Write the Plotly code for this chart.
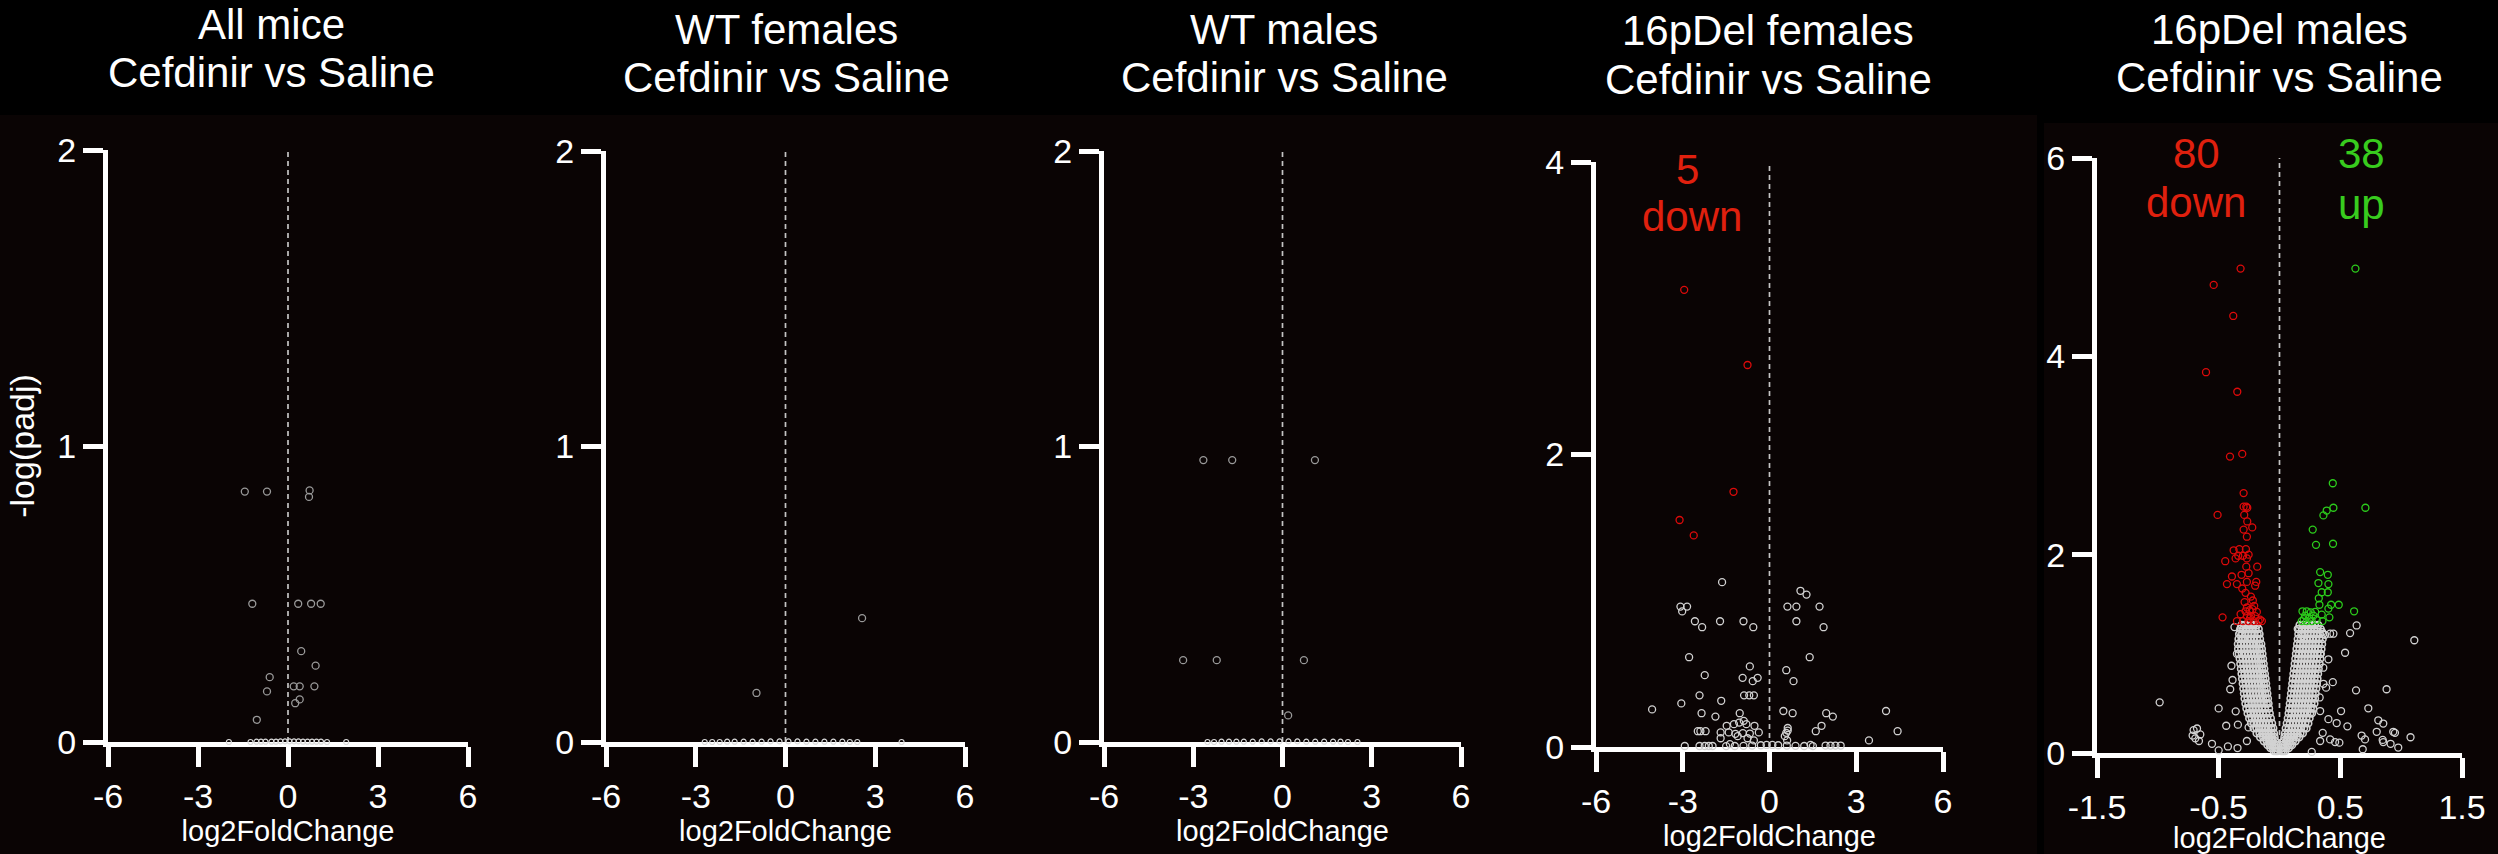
import plotly.graph_objects as go

W, H = 2498, 854
FONT = "Liberation Sans, Arial, Helvetica, sans-serif"

# ---------------- data: log2FoldChange (x) and -log(padj) (y) ----------------
# All mice
all_x = [-1.44, -0.70, 0.72, 0.70, -1.19, 0.34, 0.77, 1.09, 0.44, 0.92,
         -0.61, 0.19, 0.39, 0.88, -0.70, 0.39, 0.24, -1.04]
all_y = [0.846, 0.846, 0.850, 0.828, 0.467, 0.467, 0.467, 0.467, 0.307, 0.258,
         0.219, 0.188, 0.188, 0.188, 0.171, 0.144, 0.131, 0.075]
all_base_x = [-1.97, -1.25, -1.05, -0.90, -0.75, -0.55, -0.40, -0.25, -0.10, 0.05,
              0.20, 0.35, 0.50, 0.65, 0.80, 0.95, 1.10, 1.30, 1.94]
all_base_y = [0.000, 0.000, 0.001, 0.001, 0.001, 0.001, 0.001, 0.002, 0.002, 0.002,
              0.002, 0.002, 0.001, 0.001, 0.001, 0.001, 0.001, 0.000, 0.000]

# WT females
wtf_x = [2.56, -0.97]
wtf_y = [0.419, 0.166]
wtf_base_x = [-2.70, -2.45, -2.20, -1.95, -1.70, -1.40, -1.10, -0.80, -0.50, -0.20,
              0.10, 0.40, 0.70, 1.00, 1.30, 1.60, 1.90, 2.15, 2.40, 3.88]
wtf_base_y = [0.000, 0.000, 0.000, 0.001, 0.001, 0.001, 0.001, 0.001, 0.002, 0.002,
              0.002, 0.002, 0.001, 0.001, 0.001, 0.001, 0.001, 0.000, 0.000, 0.000]

# WT males
wtm_x = [-2.66, -1.69, 1.09, -3.34, -2.21, 0.72, 0.19]
wtm_y = [0.954, 0.954, 0.954, 0.277, 0.277, 0.277, 0.090]
wtm_base_x = [-2.52, -2.30, -2.05, -1.80, -1.55, -1.30, -1.00, -0.70, -0.40, -0.10,
              0.20, 0.50, 0.80, 1.10, 1.40, 1.70, 1.95, 2.20, 2.52]
wtm_base_y = [0.000, 0.000, 0.001, 0.001, 0.001, 0.001, 0.001, 0.002, 0.002, 0.002,
              0.002, 0.002, 0.001, 0.001, 0.001, 0.001, 0.001, 0.000, 0.000]

# 16pDel females
delf_down_x = [-2.95, -0.76, -1.245, -3.11, -2.62]
delf_down_y = [3.126, 2.612, 1.745, 1.552, 1.447]
delf_x = [-1.64, -3.08, -3.02, -2.85, -2.58, -2.33, -1.71, -0.90, -0.56, -2.78,
          -2.24, -0.68, -0.93, -0.58, -0.41, -2.42, -1.67, -0.88, -0.70, -0.54,
          -4.06, -3.05, -2.35, -1.87, -1.03, -1.48, -1.23, -1.05, -0.89, -0.80,
          -0.52, -1.69, -1.41, -1.18, -0.92, -0.68, -0.37, -2.48, -2.39, -2.21,
          -1.69, -1.10, -0.76, -0.54, -2.93, -2.42, -2.24, -2.10, -1.97, -1.37,
          1.07, 1.28, 0.62, 0.93, 1.73, 0.93, 1.87, 1.39, 0.58, 0.83,
          0.48, 0.80, 1.96, 2.19, 1.80, 1.60, 0.63, 0.63, 0.58, 0.53,
          0.61, 4.03, 4.43, 3.44, 1.42, 1.94, 2.11, 2.28, 2.46]
delf_y = [1.127, 0.960, 0.927, 0.960, 0.860, 0.819, 0.860, 0.860, 0.819, 0.614,
          0.491, 0.551, 0.473, 0.450, 0.473, 0.353, 0.316, 0.353, 0.353, 0.353,
          0.257, 0.298, 0.231, 0.208, 0.231, 0.145, 0.156, 0.167, 0.179, 0.156,
          0.145, 0.100, 0.100, 0.090, 0.095, 0.092, 0.100, 0.108, 0.108, 0.108,
          0.060, 0.074, 0.060, 0.045, 0.007, 0.007, 0.007, 0.007, 0.007, 0.020,
          1.068, 1.042, 0.960, 0.960, 0.960, 0.860, 0.819, 0.614, 0.525, 0.450,
          0.246, 0.231, 0.231, 0.208, 0.145, 0.108, 0.130, 0.112, 0.097, 0.074,
          0.045, 0.246, 0.108, 0.045, 0.015, 0.010, 0.010, 0.010, 0.010]
delf_base_x = [-1.50, -1.20, -0.90, -0.60, -0.30, -0.10, 0.10, 0.30, 0.60, 0.90, 1.20, 1.50]
delf_base_y = [0.006, 0.007, 0.008, 0.010, 0.012, 0.014, 0.014, 0.012, 0.010, 0.008, 0.007, 0.006]

# 16pDel males
delm_down_x = [-0.320, -0.541, -0.380, -0.604, -0.347, -0.407, -0.306, -0.295, -0.509, -0.295,
               -0.273, -0.265, -0.290, -0.265, -0.295, -0.224, -0.268, -0.377, -0.330, -0.276,
               -0.339, -0.300, -0.254, -0.446, -0.361, -0.268, -0.273, -0.183, -0.312, -0.391,
               -0.254, -0.432, -0.350, -0.268, -0.191, -0.306, -0.200, -0.279, -0.235, -0.287,
               -0.219, -0.268, -0.208, -0.279, -0.246, -0.222, -0.186, -0.468, -0.350, -0.301,
               -0.254, -0.213, -0.172, -0.145, -0.268, -0.235, -0.200, -0.320, -0.242, -0.160]
delm_down_y = [4.885, 4.720, 4.407, 3.840, 3.643, 2.989, 3.016, 2.621, 2.401, 2.484,
               2.484, 2.473, 2.401, 2.335, 2.253, 2.275, 2.181, 2.044, 2.055, 2.055,
               1.989, 1.989, 2.000, 1.934, 1.962, 1.962, 1.879, 1.879, 1.797, 1.780,
               1.813, 1.703, 1.703, 1.725, 1.725, 1.659, 1.687, 1.615, 1.577, 1.522,
               1.538, 1.467, 1.484, 1.429, 1.440, 1.450, 1.423, 1.368, 1.330, 1.330,
               1.330, 1.330, 1.330, 1.330, 1.380, 1.380, 1.380, 1.400, 1.360, 1.345]
delm_up_x = [0.624, 0.438, 0.706, 0.443, 0.388, 0.361, 0.273, 0.440, 0.300, 0.334,
             0.397, 0.320, 0.402, 0.347, 0.397, 0.323, 0.487, 0.328, 0.424, 0.402,
             0.613, 0.189, 0.224, 0.257, 0.293, 0.347, 0.183, 0.224, 0.265, 0.306,
             0.353, 0.410, 0.210, 0.279, 0.245, 0.200]
delm_up_y = [4.885, 2.720, 2.473, 2.473, 2.445, 2.396, 2.253, 2.110, 2.099, 1.824,
             1.797, 1.714, 1.703, 1.621, 1.621, 1.560, 1.495, 1.495, 1.495, 1.456,
             1.429, 1.429, 1.429, 1.418, 1.423, 1.396, 1.330, 1.330, 1.330, 1.340,
             1.330, 1.368, 1.385, 1.385, 1.360, 1.350]
delm_x = [-0.985, -0.500, -0.706, -0.678, -0.714, -0.692, -0.651, -0.662, -0.555, -0.500,
          -0.424, -0.438, -0.405, -0.386, -0.342, -0.345, -0.254, -0.268, -0.323, -0.350,
          1.108, 0.580, 0.634, 0.539, 0.443, 0.880, 0.629, 0.438, 0.506, 0.730,
          0.402, 0.470, 0.558, 0.812, 0.853, 0.799, 0.935, 0.949, 0.675, 0.703,
          0.848, 0.853, 0.913, 0.976, 1.077, 0.684, 0.416, 0.457, 0.492, 0.265,
          0.350, 0.375, 0.416, 0.334, 0.402, 0.361, 0.383, 0.334, 0.355, 0.334,
          -0.370, -0.300, -0.395, -0.360, 0.150, 0.190, 0.360, 0.330]
delm_y = [0.511, 0.450, 0.231, 0.247, 0.176, 0.148, 0.187, 0.121, 0.093, 0.027,
          0.066, 0.275, 0.643, 0.736, 0.286, 0.050, 0.258, 0.121, 1.220, 1.000,
          1.137, 1.209, 1.286, 1.011, 1.203, 0.643, 0.632, 0.714, 0.423, 0.451,
          0.341, 0.302, 0.269, 0.330, 0.297, 0.214, 0.214, 0.203, 0.176, 0.137,
          0.132, 0.110, 0.093, 0.055, 0.159, 0.038, 0.137, 0.110, 0.104, 0.011,
          1.220, 1.192, 1.203, 1.000, 0.945, 0.698, 0.659, 0.423, 0.203, 0.121,
          1.270, 1.150, 0.880, 0.420, 1.250, 1.180, 0.860, 0.560]

# dense central cloud of the 16pDel males comparison, one row per -log(padj) level
delm_core_left = [
    (0.02, [-0.045, -0.030, -0.016]),
    (0.05, [-0.074, -0.056, -0.037, -0.021]),
    (0.08, [-0.098, -0.079, -0.061, -0.043, -0.027]),
    (0.12, [-0.128, -0.104, -0.082, -0.061, -0.037]),
    (0.16, [-0.158, -0.133, -0.111, -0.087, -0.063, -0.041]),
    (0.20, [-0.187, -0.163, -0.139, -0.116, -0.091, -0.068, -0.046]),
    (0.25, [-0.212, -0.188, -0.166, -0.141, -0.117, -0.093, -0.069, -0.052]),
    (0.30, [-0.233, -0.209, -0.186, -0.161, -0.137, -0.112, -0.087, -0.062]),
    (0.35, [-0.248, -0.226, -0.201, -0.176, -0.152, -0.127, -0.101, -0.072]),
    (0.40, [-0.261, -0.236, -0.212, -0.187, -0.162, -0.136, -0.111, -0.081]),
    (0.45, [-0.271, -0.246, -0.221, -0.196, -0.171, -0.146, -0.121, -0.087]),
    (0.50, [-0.279, -0.254, -0.229, -0.205, -0.181, -0.156, -0.131, -0.106, -0.091]),
    (0.55, [-0.286, -0.261, -0.236, -0.211, -0.186, -0.161, -0.137, -0.114, -0.096]),
    (0.60, [-0.291, -0.266, -0.241, -0.216, -0.191, -0.166, -0.142, -0.119, -0.101]),
    (0.65, [-0.296, -0.271, -0.246, -0.221, -0.196, -0.171, -0.147, -0.125, -0.106]),
    (0.70, [-0.301, -0.276, -0.251, -0.226, -0.201, -0.176, -0.152, -0.130, -0.111]),
    (0.75, [-0.306, -0.281, -0.256, -0.231, -0.206, -0.181, -0.157, -0.135, -0.116]),
    (0.80, [-0.311, -0.286, -0.261, -0.236, -0.211, -0.186, -0.161, -0.140, -0.121]),
    (0.85, [-0.316, -0.291, -0.266, -0.241, -0.216, -0.191, -0.166, -0.145, -0.126]),
    (0.90, [-0.321, -0.296, -0.271, -0.246, -0.221, -0.196, -0.171, -0.150, -0.131]),
    (0.95, [-0.326, -0.301, -0.276, -0.251, -0.226, -0.201, -0.176, -0.155, -0.136]),
    (1.00, [-0.334, -0.309, -0.284, -0.259, -0.234, -0.209, -0.184, -0.161, -0.141]),
    (1.05, [-0.339, -0.314, -0.289, -0.264, -0.239, -0.214, -0.189, -0.166, -0.146]),
    (1.10, [-0.341, -0.316, -0.291, -0.266, -0.241, -0.216, -0.191, -0.170, -0.151]),
    (1.15, [-0.336, -0.311, -0.286, -0.261, -0.236, -0.211, -0.186, -0.161]),
    (1.20, [-0.331, -0.306, -0.281, -0.256, -0.231, -0.206, -0.181, -0.165]),
    (1.25, [-0.322, -0.297, -0.272, -0.247, -0.222, -0.197, -0.172]),
    (1.29, [-0.311, -0.286, -0.261, -0.236, -0.211, -0.186]),
]
delm_core_right = [
    (0.02, [0.016, 0.031, 0.046]),
    (0.05, [0.021, 0.036, 0.055, 0.076]),
    (0.08, [0.026, 0.045, 0.066, 0.086, 0.102]),
    (0.12, [0.034, 0.059, 0.084, 0.109, 0.131]),
    (0.16, [0.041, 0.066, 0.091, 0.116, 0.141, 0.161]),
    (0.20, [0.046, 0.071, 0.096, 0.121, 0.146, 0.171, 0.191]),
    (0.25, [0.052, 0.076, 0.101, 0.126, 0.151, 0.176, 0.201, 0.221]),
    (0.30, [0.061, 0.086, 0.111, 0.136, 0.161, 0.186, 0.211, 0.236]),
    (0.35, [0.069, 0.094, 0.119, 0.144, 0.169, 0.194, 0.219, 0.246]),
    (0.40, [0.076, 0.101, 0.126, 0.151, 0.176, 0.201, 0.226, 0.251, 0.266]),
    (0.45, [0.081, 0.106, 0.131, 0.156, 0.181, 0.206, 0.231, 0.256, 0.276]),
    (0.50, [0.086, 0.111, 0.136, 0.161, 0.186, 0.211, 0.236, 0.261, 0.286]),
    (0.55, [0.091, 0.116, 0.141, 0.166, 0.191, 0.216, 0.241, 0.266, 0.291]),
    (0.60, [0.096, 0.121, 0.146, 0.171, 0.196, 0.221, 0.246, 0.271, 0.296]),
    (0.65, [0.101, 0.126, 0.151, 0.176, 0.201, 0.226, 0.251, 0.276, 0.301]),
    (0.70, [0.106, 0.131, 0.156, 0.181, 0.206, 0.231, 0.256, 0.281, 0.306]),
    (0.75, [0.111, 0.136, 0.161, 0.186, 0.211, 0.236, 0.261, 0.286, 0.311]),
    (0.80, [0.116, 0.141, 0.166, 0.191, 0.216, 0.241, 0.266, 0.291, 0.316]),
    (0.85, [0.121, 0.146, 0.171, 0.196, 0.221, 0.246, 0.271, 0.296, 0.321]),
    (0.90, [0.126, 0.151, 0.176, 0.201, 0.226, 0.251, 0.276, 0.301, 0.329]),
    (0.95, [0.131, 0.156, 0.181, 0.206, 0.231, 0.256, 0.281, 0.306, 0.334]),
    (1.00, [0.136, 0.161, 0.186, 0.211, 0.236, 0.261, 0.286, 0.311, 0.339]),
    (1.05, [0.141, 0.166, 0.191, 0.216, 0.241, 0.266, 0.291, 0.316, 0.344]),
    (1.10, [0.146, 0.171, 0.196, 0.221, 0.246, 0.271, 0.296, 0.321, 0.349]),
    (1.15, [0.151, 0.176, 0.201, 0.226, 0.251, 0.276, 0.301, 0.326, 0.354]),
    (1.20, [0.156, 0.181, 0.206, 0.231, 0.256, 0.281, 0.306, 0.331, 0.358]),
    (1.25, [0.161, 0.186, 0.211, 0.236, 0.261, 0.286, 0.311, 0.338]),
    (1.29, [0.166, 0.191, 0.216, 0.241, 0.266, 0.291, 0.318]),
]

# counts of significant genes printed on the panels
delf_n_down = 5
delm_n_down = 80
delm_n_up = 38

# ---------------- styling ----------------
PLOT_BG = "#0a0404"
GRAY_DIM = "#9a9a9a"
GRAY_LIGHT = "#d2d2d2"
GRAY_BASE = "#dcdcdc"
RED = "#dd0a0a"
GREEN = "#2ccc1c"
RED_TXT = "#e0200e"
GREEN_TXT = "#38cc1e"

# pixel boxes of each subplot: (left, right, top, bottom)
panels = [
    dict(box=(108, 468, 150, 742), xr=[-6, 6], xt=[-6, -3, 0, 3, 6], yr=[0, 2], yt=[0, 1, 2],
         title=("All mice", "Cefdinir vs Saline"), tx=271, ty=(24.5, 73)),
    dict(box=(606, 965, 151, 742), xr=[-6, 6], xt=[-6, -3, 0, 3, 6], yr=[0, 2], yt=[0, 1, 2],
         title=("WT females", "Cefdinir vs Saline"), tx=786, ty=(29, 78)),
    dict(box=(1104, 1461, 151, 742), xr=[-6, 6], xt=[-6, -3, 0, 3, 6], yr=[0, 2], yt=[0, 1, 2],
         title=("WT males", "Cefdinir vs Saline"), tx=1284, ty=(29, 78)),
    dict(box=(1596, 1943, 162, 747), xr=[-6, 6], xt=[-6, -3, 0, 3, 6], yr=[0, 4], yt=[0, 2, 4],
         title=("16pDel females", "Cefdinir vs Saline"), tx=1768, ty=(30, 79)),
    dict(box=(2097, 2462, 158, 753), xr=[-1.5, 1.5], xt=[-1.5, -0.5, 0.5, 1.5], yr=[0, 6], yt=[0, 2, 4, 6],
         title=("16pDel males", "Cefdinir vs Saline"), tx=2279, ty=(29, 78)),
]


def fmt(v):
    return "%g" % v


def scatter(xs, ys, color, axis_n, size=7, lw=1.3):
    sfx = "" if axis_n == 1 else str(axis_n)
    return go.Scatter(
        x=xs, y=ys, mode="markers", xaxis="x" + sfx, yaxis="y" + sfx,
        marker=dict(symbol="circle-open", size=size, color=color,
                    line=dict(width=lw, color=color)),
        cliponaxis=False, showlegend=False, hoverinfo="skip")


fig = go.Figure()

# All mice
fig.add_trace(scatter(all_base_x, all_base_y, GRAY_BASE, 1, size=5, lw=1.2))
fig.add_trace(scatter(all_x, all_y, GRAY_DIM, 1))
# WT females
fig.add_trace(scatter(wtf_base_x, wtf_base_y, GRAY_BASE, 2, size=5, lw=1.2))
fig.add_trace(scatter(wtf_x, wtf_y, GRAY_DIM, 2))
# WT males
fig.add_trace(scatter(wtm_base_x, wtm_base_y, GRAY_BASE, 3, size=5, lw=1.2))
fig.add_trace(scatter(wtm_x, wtm_y, GRAY_DIM, 3))
# 16pDel females
fig.add_trace(scatter(delf_base_x, delf_base_y, GRAY_LIGHT, 4))
fig.add_trace(scatter(delf_x, delf_y, GRAY_LIGHT, 4))
fig.add_trace(scatter(delf_down_x, delf_down_y, RED, 4))
# 16pDel males
core_x, core_y = [], []
for rows in (delm_core_left, delm_core_right):
    for yv, xs in rows:
        core_x.extend(xs)
        core_y.extend([yv] * len(xs))
fig.add_trace(scatter(core_x, core_y, GRAY_LIGHT, 5, size=7, lw=1.6))
fig.add_trace(scatter(delm_x, delm_y, GRAY_LIGHT, 5))
fig.add_trace(scatter(delm_down_x, delm_down_y, RED, 5))
fig.add_trace(scatter(delm_up_x, delm_up_y, GREEN, 5))

shapes = [
    # dark plotting backdrop under the first four panels and the last panel
    dict(type="rect", xref="paper", yref="paper", x0=0, x1=2037 / W, y0=0, y1=1 - 115 / H,
         fillcolor=PLOT_BG, line=dict(width=0), layer="below"),
    dict(type="rect", xref="paper", yref="paper", x0=2044 / W, x1=1, y0=0, y1=1 - 123 / H,
         fillcolor=PLOT_BG, line=dict(width=0), layer="below"),
]
annotations = []
layout_axes = {}
for i, p in enumerate(panels, start=1):
    sfx = "" if i == 1 else str(i)
    l, r, t, b = p["box"]
    tick_font = dict(family=FONT, size=34, color="white")
    common = dict(showline=True, linecolor="white", linewidth=5, ticks="outside",
                  ticklen=20, tickwidth=5, tickcolor="white", showgrid=False,
                  zeroline=False, tickfont=tick_font, automargin=False, fixedrange=True,
                  layer="below traces")
    layout_axes["xaxis" + sfx] = dict(
        common, domain=[l / W, r / W], range=p["xr"], anchor="y" + sfx,
        tickmode="array", tickvals=p["xt"], ticktext=[fmt(v) for v in p["xt"]],
        title=dict(text="log2FoldChange", font=dict(family=FONT, size=29, color="white"),
                   standoff=4))
    ydict = dict(
        common, domain=[1 - b / H, 1 - t / H], range=p["yr"], anchor="x" + sfx,
        tickmode="array", tickvals=p["yt"], ticktext=[fmt(v) for v in p["yt"]])
    if i == 1:
        ydict["title"] = dict(text="-log(padj)", font=dict(family=FONT, size=34, color="white"),
                              standoff=14)
    layout_axes["yaxis" + sfx] = ydict

    # dashed reference line at log2FoldChange = 0
    shapes.append(dict(type="line", xref="x" + sfx, yref="y" + sfx, x0=0, x1=0,
                       y0=p["yr"][0], y1=p["yr"][1], layer="below",
                       line=dict(color="#c4c4c4", width=1.7, dash="5px,4px")))

    for line_text, ty in zip(p["title"], p["ty"]):
        annotations.append(dict(xref="paper", yref="paper", x=p["tx"] / W, y=1 - ty / H,
                                text=line_text, showarrow=False, xanchor="center",
                                yanchor="middle",
                                font=dict(family=FONT, size=42, color="white")))


def count_label(text, xpx, ypx, color):
    return dict(xref="paper", yref="paper", x=xpx / W, y=1 - ypx / H, text=text,
                showarrow=False, xanchor="center", yanchor="middle",
                font=dict(family=FONT, size=42, color=color))


annotations += [
    count_label(str(delf_n_down), 1687, 169, RED_TXT),
    count_label("down", 1692, 216, RED_TXT),
    count_label(str(delm_n_down), 2196, 154, RED_TXT),
    count_label("down", 2196, 202, RED_TXT),
    count_label(str(delm_n_up), 2361, 154, GREEN_TXT),
    count_label("up", 2361, 204, GREEN_TXT),
]

fig.update_layout(
    width=W, height=H, autosize=False,
    margin=dict(l=0, r=0, t=0, b=0, pad=0),
    paper_bgcolor="black", plot_bgcolor="rgba(0,0,0,0)",
    font=dict(family=FONT, color="white"),
    showlegend=False, shapes=shapes, annotations=annotations,
    **layout_axes,
)

fig.write_html("out.html", config={"displayModeBar": False})
